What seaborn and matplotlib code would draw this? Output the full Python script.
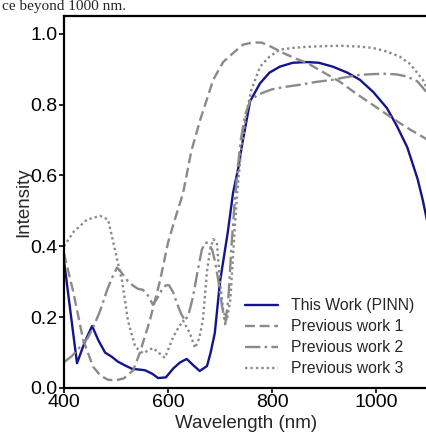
import numpy as np
import pandas as pd
import matplotlib
matplotlib.use("Agg")
import matplotlib.pyplot as plt
import seaborn as sns

# spectra
wl_pinn = [400, 412, 425, 440, 454, 466, 479, 492, 504, 517, 531, 545, 556, 570, 581, 596,
           610, 623, 636, 648, 661, 675, 682, 690, 700, 715, 725, 735, 744, 758, 777, 795,
           815, 840, 867, 890, 917, 945, 969, 995, 1021, 1040, 1060, 1080, 1090, 1100]
int_pinn = [0.36, 0.22, 0.07, 0.13, 0.175, 0.135, 0.10, 0.088, 0.074, 0.064, 0.054, 0.052,
            0.05, 0.04, 0.028, 0.03, 0.055, 0.072, 0.082, 0.065, 0.048, 0.062, 0.10, 0.155,
            0.30, 0.44, 0.55, 0.62, 0.70, 0.81, 0.86, 0.89, 0.907, 0.918, 0.92, 0.918, 0.907,
            0.89, 0.87, 0.835, 0.79, 0.74, 0.68, 0.59, 0.53, 0.46]

wl_prev1 = [400, 418, 437, 456, 470, 485, 500, 515, 533, 546, 565, 585, 600, 613, 629, 645,
            662, 687, 706, 725, 744, 762, 780, 800, 821, 845, 867, 900, 931, 958, 983, 1008,
            1033, 1065, 1100]
int_prev1 = [0.38, 0.27, 0.135, 0.06, 0.035, 0.023, 0.022, 0.027, 0.05, 0.10, 0.19, 0.305,
             0.41, 0.475, 0.55, 0.67, 0.757, 0.87, 0.92, 0.945, 0.969, 0.975, 0.975, 0.962,
             0.946, 0.93, 0.918, 0.89, 0.864, 0.835, 0.81, 0.785, 0.76, 0.73, 0.70]

wl_prev2 = [400, 415, 431, 445, 456, 470, 483, 495, 502, 511, 521, 532, 542, 552, 562, 571,
            580, 588, 596, 602, 610, 617, 625, 633, 640, 648, 657, 665, 671, 677, 685, 690,
            696, 703, 710, 716, 722, 728, 734, 740, 748, 758, 770, 785, 800, 825, 854, 885,
            917, 945, 969, 995, 1021, 1040, 1060, 1080, 1100]
int_prev2 = [0.073, 0.09, 0.116, 0.14, 0.17, 0.22, 0.277, 0.32, 0.34, 0.325, 0.305, 0.29,
             0.28, 0.277, 0.26, 0.235, 0.255, 0.277, 0.29, 0.29, 0.27, 0.24, 0.21, 0.19,
             0.21, 0.257, 0.33, 0.39, 0.41, 0.41, 0.39, 0.36, 0.31, 0.24, 0.18, 0.25, 0.40,
             0.52, 0.62, 0.70, 0.77, 0.81, 0.825, 0.835, 0.843, 0.85, 0.856, 0.864, 0.87,
             0.878, 0.884, 0.886, 0.887, 0.885, 0.879, 0.865, 0.83]

wl_prev3 = [400, 418, 444, 469, 485, 498, 512, 523, 537, 552, 571, 594, 610, 620, 629, 642,
            652, 660, 667, 675, 681, 687, 694, 700, 706, 713, 720, 727, 733, 740, 750, 760,
            777, 795, 815, 840, 867, 900, 931, 965, 994, 1020, 1046, 1065, 1079, 1090, 1100]
int_prev3 = [0.40, 0.44, 0.475, 0.486, 0.475, 0.39, 0.30, 0.19, 0.116, 0.098, 0.113, 0.085,
             0.144, 0.17, 0.19, 0.155, 0.113, 0.14, 0.19, 0.33, 0.39, 0.42, 0.41, 0.30, 0.22,
             0.19, 0.25, 0.42, 0.55, 0.66, 0.77, 0.84, 0.907, 0.935, 0.955, 0.96, 0.963,
             0.965, 0.966, 0.964, 0.96, 0.95, 0.935, 0.915, 0.89, 0.87, 0.84]

labels = ["This Work (PINN)", "Previous work 1", "Previous work 2", "Previous work 3"]

sns.set_style("ticks")
plt.rcParams['font.family'] = ['Liberation Sans', 'DejaVu Sans']

fig = plt.figure(figsize=(4.26, 4.32), dpi=100)
ax = fig.add_axes([64 / 426, 1 - 388 / 432, 364 / 426, 372 / 432])

grey = "#8a8a8a"
series = [
    (wl_pinn, int_pinn, "#14148c", "-"),
    (wl_prev1, int_prev1, grey, (0, (4.2, 2.0))),
    (wl_prev2, int_prev2, grey, (0, (6.5, 1.8, 1.1, 1.8))),
    (wl_prev3, int_prev3, grey, (0, (1, 1.3))),
]
for (x, y, c, ls), lab in zip(series, labels):
    df = pd.DataFrame({"Wavelength": x, "Intensity": y})
    sns.lineplot(data=df, x="Wavelength", y="Intensity", ax=ax, color=c,
                 linestyle=ls, linewidth=1.7, label=lab, sort=False)

ax.set_xlim(400, 1100)
ax.set_ylim(0, 1.05)
ax.set_xticks([400, 600, 800, 1000])
ax.set_yticks([0.0, 0.2, 0.4, 0.6, 0.8, 1.0])
ax.set_yticklabels(["0.0", "0.2", "0.4", "0.6", "0.8", "1.0"])
ax.tick_params(labelsize=14, length=3.5, width=1.2, pad=1, colors="black")
ax.set_xlabel("Wavelength (nm)", fontsize=13.5, labelpad=3)
ax.set_ylabel("Intensity", fontsize=13.5, labelpad=-1)
for s in ax.spines.values():
    s.set_linewidth(1.6)
    s.set_color("black")

ax.legend(loc="lower left", bbox_to_anchor=(0.48, 0.015), frameon=False,
          fontsize=11.3, handlelength=2.1, handletextpad=0.8, labelspacing=0.38,
          borderaxespad=0)

# line of paper text above the figure, kept inside the top margin
fig.text(2 / 426, 1 - 10 / 432, "ce beyond 1000 nm.", family="Liberation Serif",
         fontsize=11, va="baseline", ha="left")

fig.savefig("out.png", dpi=100)
